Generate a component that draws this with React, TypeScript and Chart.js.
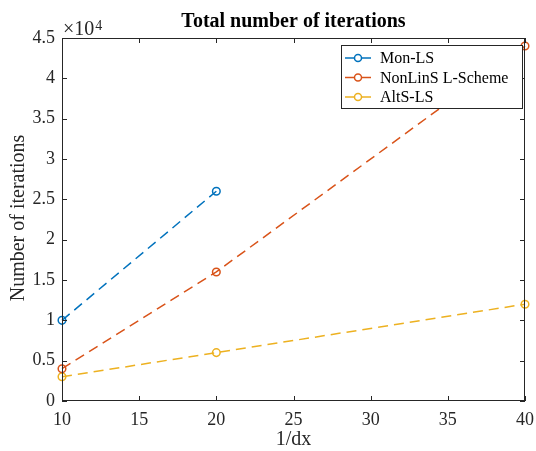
import React, { useEffect, useRef } from "react";
import { Chart, registerables } from "chart.js";
Chart.register(...registerables);

const xValues = [10, 20, 40];
const monLS = [10000, 26000];
const nonLinS = [4000, 16000, 44000];
const altS = [3000, 6000, 12000];
const seriesNames = ["Mon-LS", "NonLinS L-Scheme", "AltS-LS"];
const seriesColors = ["#0072BD", "#D95319", "#EDB120"];
const xTicks = [10, 15, 20, 25, 30, 35, 40];
const yTicks = [0, 5000, 10000, 15000, 20000, 25000, 30000, 35000, 40000, 45000];
const yTickLabels = ["0", "0.5", "1", "1.5", "2", "2.5", "3", "3.5", "4", "4.5"];
const titleText = "Total number of iterations";
const xTitle = "1/dx";
const yTitle = "Number of iterations";

const FONT = "'Liberation Serif', 'DejaVu Serif', serif";
const AXIS = "#262626";

const overlay = {
  id: "overlay",
  afterDatasetsDraw(chart: any) {
    const ctx = chart.ctx;
    const { left, right, top, bottom } = chart.chartArea;
    const xs = chart.scales.x;
    const ys = chart.scales.y;
    ctx.save();
    // frame
    ctx.strokeStyle = AXIS;
    ctx.lineWidth = 1;
    ctx.strokeRect(left + 0.5, top + 0.5, right - left - 1, bottom - top - 1);
    // ticks
    const tl = 5;
    ctx.beginPath();
    xTicks.forEach((t) => {
      const px = Math.round(xs.getPixelForValue(t)) + 0.5;
      ctx.moveTo(px, bottom);
      ctx.lineTo(px, bottom - tl);
      ctx.moveTo(px, top);
      ctx.lineTo(px, top + tl);
    });
    yTicks.forEach((t) => {
      const py = Math.round(ys.getPixelForValue(t)) + 0.5;
      ctx.moveTo(left, py);
      ctx.lineTo(left + tl, py);
      ctx.moveTo(right, py);
      ctx.lineTo(right - tl, py);
    });
    ctx.stroke();

    // legend
    const lw = 181, lh = 63;
    const lx = right - 3 - lw, ly = top + 7;
    ctx.fillStyle = "#ffffff";
    ctx.fillRect(lx, ly, lw, lh);
    ctx.strokeStyle = AXIS;
    ctx.strokeRect(lx + 0.5, ly + 0.5, lw, lh);
    seriesNames.forEach((name, i) => {
      const cy = ly + 13 + i * 19.5;
      ctx.strokeStyle = seriesColors[i];
      ctx.lineWidth = 1.5;
      ctx.beginPath();
      ctx.moveTo(lx + 4, cy);
      ctx.lineTo(lx + 30, cy);
      ctx.stroke();
      ctx.fillStyle = "#ffffff";
      ctx.beginPath();
      ctx.arc(lx + 17, cy, 3.5, 0, Math.PI * 2);
      ctx.fill();
      ctx.stroke();
      ctx.fillStyle = "#000000";
      ctx.font = `16px ${FONT}`;
      ctx.textAlign = "left";
      ctx.textBaseline = "middle";
      ctx.fillText(name, lx + 39, cy + 1);
    });

    // title
    ctx.fillStyle = "#000000";
    ctx.font = `bold 20px ${FONT}`;
    ctx.textAlign = "center";
    ctx.textBaseline = "alphabetic";
    ctx.fillText(titleText, (left + right) / 2, 27);

    // x10^4
    ctx.fillStyle = AXIS;
    ctx.textAlign = "left";
    ctx.font = `20px ${FONT}`;
    ctx.fillText("\u00d710", left + 1, 35);
    const w = ctx.measureText("\u00d710").width;
    ctx.font = `14px ${FONT}`;
    ctx.fillText("4", left + 2 + w, 30);

    // axis titles
    ctx.font = `20px ${FONT}`;
    ctx.textAlign = "center";
    ctx.textBaseline = "middle";
    ctx.fillStyle = AXIS;
    ctx.fillText(xTitle, (left + right) / 2, 440);
    ctx.save();
    ctx.translate(19, 218);
    ctx.rotate(-Math.PI / 2);
    ctx.fillText(yTitle, 0, 0);
    ctx.restore();
    ctx.restore();
  },
};

export default function App() {
  const ref = useRef<HTMLCanvasElement>(null);
  useEffect(() => {
    const mk = (ys: number[], i: number) => ({
      label: seriesNames[i],
      data: ys.map((y, k) => ({ x: xValues[k], y })),
      borderColor: seriesColors[i],
      backgroundColor: seriesColors[i],
      borderWidth: 1.5,
      borderDash: [10, 6],
      pointRadius: 3.8,
      pointBorderWidth: 1.5,
      pointBackgroundColor: "rgba(0,0,0,0)",
      pointBorderColor: seriesColors[i],
      tension: 0,
      clip: false as any,
    });
    const chart = new Chart(ref.current!, {
      type: "line",
      data: { datasets: [mk(monLS, 0), mk(nonLinS, 1), mk(altS, 2)] },
      options: {
        animation: false,
        responsive: false,
        maintainAspectRatio: false,
        layout: { padding: { left: 0, right: 11, top: 38, bottom: 0 } },
        plugins: { legend: { display: false }, title: { display: false }, tooltip: { enabled: false } },
        scales: {
          x: {
            type: "linear",
            min: 10,
            max: 40,
            border: { display: false },
            grid: { display: false, drawTicks: false },
            afterBuildTicks: (s: any) => { s.ticks = xTicks.map((v) => ({ value: v })); },
            afterFit: (s: any) => { s.height = 50; s.paddingLeft = 0; s.paddingRight = 0; },
            ticks: {
              color: AXIS,
              font: { family: FONT, size: 18 },
              padding: 8,
              maxRotation: 0,
              callback: (v: any) => String(v),
            },
          },
          y: {
            type: "linear",
            min: 0,
            max: 45000,
            border: { display: false },
            grid: { display: false, drawTicks: false },
            afterBuildTicks: (s: any) => { s.ticks = yTicks.map((v) => ({ value: v })); },
            afterFit: (s: any) => { s.width = 62; s.paddingTop = 0; s.paddingBottom = 0; },
            ticks: {
              color: AXIS,
              font: { family: FONT, size: 18 },
              padding: 7,
              callback: (v: any) => yTickLabels[yTicks.indexOf(Number(v))] ?? "",
            },
          },
        },
      },
      plugins: [overlay],
    });
    return () => chart.destroy();
  }, []);
  return (
    <div style={{ position: "fixed", left: 0, top: 0, width: 536, height: 451, background: "#fff" }}>
      <canvas ref={ref} width={536} height={451} style={{ width: 536, height: 451 }} />
    </div>
  );
}
